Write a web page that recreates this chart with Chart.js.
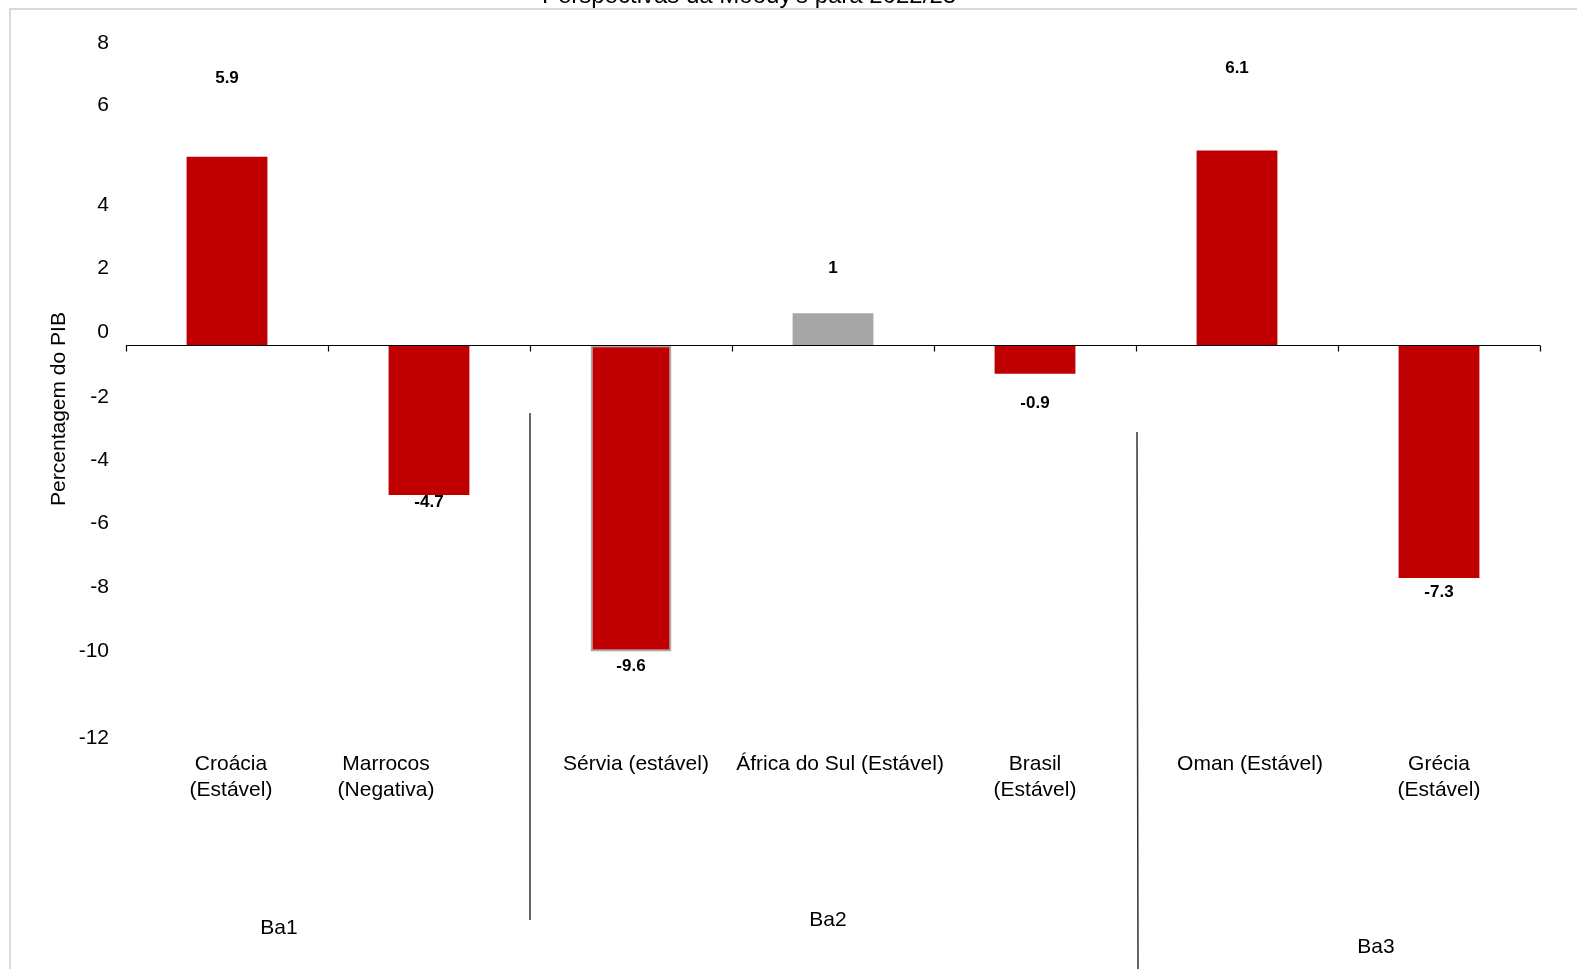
<!DOCTYPE html>
<html>
<head>
<meta charset="utf-8">
<script src="https://cdn.jsdelivr.net/npm/chart.js@4/dist/chart.umd.min.js"></script>
<style>
  html, body { margin: 0; padding: 0; background: #ffffff; }
  canvas { display: block; }
</style>
</head>
<body>
<canvas id="c" width="1577" height="969"></canvas>
<script>
// Moody's outlook: fiscal balance, % of GDP, 2022/23
const categories = [
  ['Croácia', '(Estável)'],
  ['Marrocos', '(Negativa)'],
  ['Sérvia (estável)'],
  ['África do Sul (Estável)'],
  ['Brasil', '(Estável)'],
  ['Oman (Estável)'],
  ['Grécia', '(Estável)']
];
const values = [5.9, -4.7, -9.6, 1, -0.9, 6.1, -7.3];
const barColors = ['#c00000', '#c00000', '#c00000', '#a6a6a6', '#c00000', '#c00000', '#c00000'];
const yTickLabels = [8, 6, 4, 2, 0, -2, -4, -6, -8, -10, -12];
const ratingGroups = ['Ba1', 'Ba2', 'Ba3'];
const chartTitle = "Perspectivas da Moody's para 2022/23";
const yAxisTitle = 'Percentagem do PIB';

const FONT = '"Liberation Sans", Arial, sans-serif';

// Hand-placed annotation layer: tick labels, value labels, category text,
// rating group separators, baseline with category tick marks.
const annotate = {
  id: 'annotate',
  afterDatasetsDraw(chart) {
    const { ctx, scales: { x, y }, chartArea } = chart;
    ctx.save();

    // outer frame (top and left edges)
    ctx.strokeStyle = '#d9d9d9';
    ctx.lineWidth = 2;
    ctx.beginPath();
    ctx.moveTo(10, 969);
    ctx.lineTo(10, 9);
    ctx.lineTo(1577, 9);
    ctx.stroke();

    // title, partly clipped by the top of the page
    ctx.fillStyle = '#000';
    ctx.font = `24px ${FONT}`;
    ctx.textAlign = 'center';
    ctx.textBaseline = 'alphabetic';
    ctx.fillText(chartTitle, 749, 3);

    // baseline at zero with tick marks on category boundaries
    const y0 = Math.round(y.getPixelForValue(0)) + 0.5;
    ctx.strokeStyle = '#000';
    ctx.lineWidth = 1.2;
    ctx.beginPath();
    ctx.moveTo(chartArea.left, y0);
    ctx.lineTo(chartArea.right, y0);
    const step = (chartArea.right - chartArea.left) / categories.length;
    for (let i = 0; i <= categories.length; i++) {
      const bx = Math.round(chartArea.left + i * step) + 0.5;
      ctx.moveTo(bx, y0);
      ctx.lineTo(bx, y0 + 6);
    }
    ctx.stroke();

    // y tick labels (shifted from their nominal positions)
    const tickShift = [-47, -48, -12, -13, -13, -12, -13, -13, -13, -13, 10];
    ctx.font = `21px ${FONT}`;
    ctx.textAlign = 'right';
    ctx.textBaseline = 'middle';
    yTickLabels.forEach((t, i) => {
      ctx.fillText(String(t), 109, y.getPixelForValue(t) + tickShift[i]);
    });

    // y axis title
    ctx.save();
    ctx.translate(59, 409);
    ctx.rotate(-Math.PI / 2);
    ctx.textAlign = 'center';
    ctx.textBaseline = 'middle';
    ctx.font = `21px ${FONT}`;
    ctx.fillText(yAxisTitle, 0, 0);
    ctx.restore();

    // value labels
    const labelShift = [-79, 7, 15, -45, 29, -82, 14];
    ctx.font = `bold 17px ${FONT}`;
    ctx.textAlign = 'center';
    ctx.textBaseline = 'middle';
    values.forEach((v, i) => {
      ctx.fillText(String(v), x.getPixelForValue(i), y.getPixelForValue(v) + labelShift[i]);
    });

    // category labels
    const catShift = [4, -43, 5, 7, 0, 13, 0];
    ctx.font = `21px ${FONT}`;
    categories.forEach((lines, i) => {
      const cx = x.getPixelForValue(i) + catShift[i];
      lines.forEach((ln, j) => ctx.fillText(ln, cx, 764 + j * 26));
    });

    // rating group separators
    ctx.strokeStyle = '#333';
    ctx.lineWidth = 1.5;
    const sep1 = (x.getPixelForValue(1) + x.getPixelForValue(2)) / 2;
    const sep2 = (x.getPixelForValue(4) + x.getPixelForValue(5)) / 2;
    ctx.beginPath();
    ctx.moveTo(sep1, 413);
    ctx.lineTo(sep1, 920);
    ctx.moveTo(sep2 + 1, 432);
    ctx.lineTo(sep2 + 2, 969);
    ctx.stroke();

    // rating group names
    ctx.font = `21px ${FONT}`;
    ctx.fillText(ratingGroups[0], 279, 928);
    ctx.fillText(ratingGroups[1], 828, 920);
    ctx.fillText(ratingGroups[2], 1376, 947);

    ctx.restore();
  }
};

new Chart(document.getElementById('c'), {
  type: 'bar',
  data: {
    labels: categories,
    datasets: [{
      data: values,
      backgroundColor: barColors,
      borderColor: values.map((v, i) => i === 2 ? '#a6a6a6' : barColors[i]),
      borderWidth: values.map((v, i) => i === 2 ? 2 : 0),
      borderSkipped: false,
      barPercentage: 0.8,
      categoryPercentage: 0.5
    }]
  },
  options: {
    responsive: false,
    animation: false,
    layout: { padding: { left: 126, right: 37, top: 26, bottom: 209 } },
    plugins: {
      legend: { display: false },
      tooltip: { enabled: false },
      title: { display: false }
    },
    scales: {
      x: { display: false },
      y: { display: false, min: -13, max: 10 }
    }
  },
  plugins: [annotate]
});
</script>
</body>
</html>
